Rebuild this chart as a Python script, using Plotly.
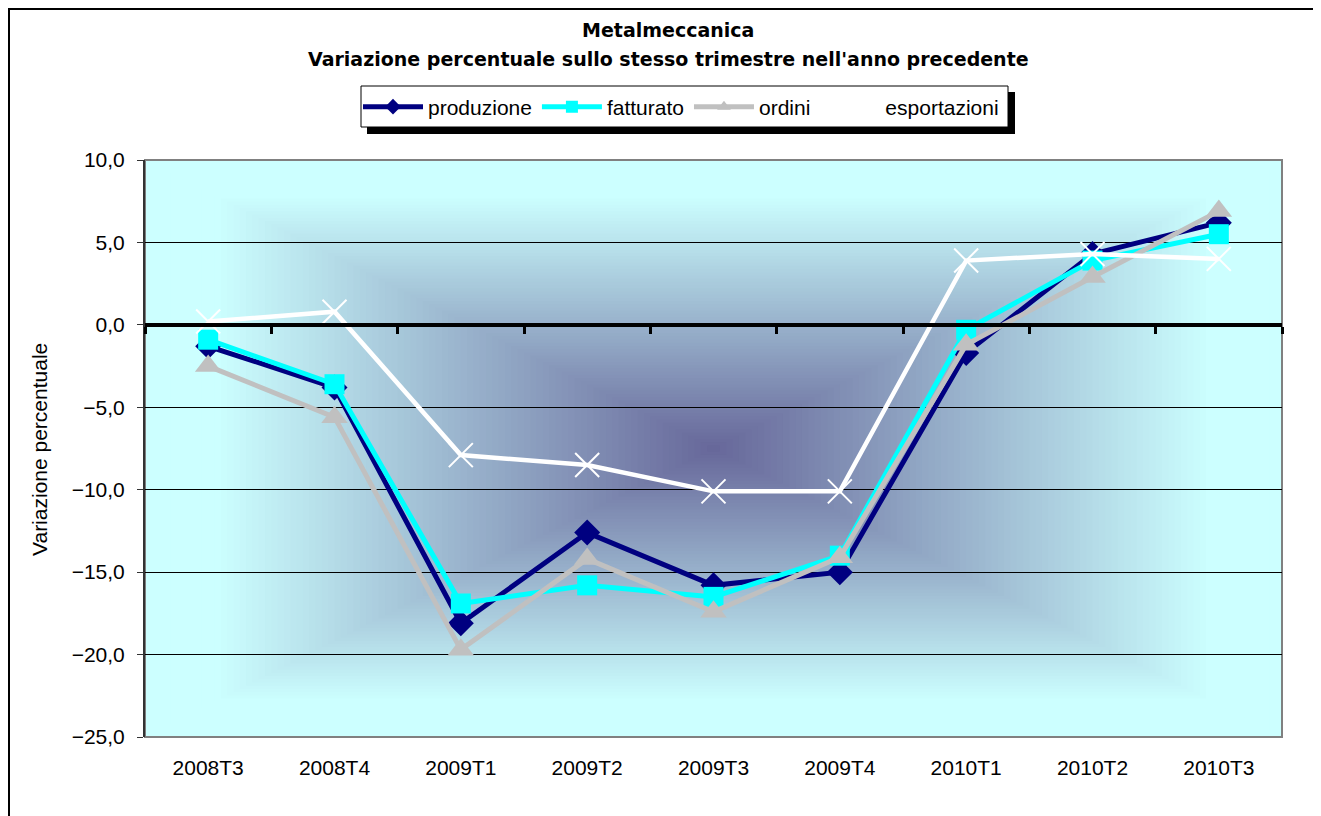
import plotly.graph_objects as go

categories = ["2008T3", "2008T4", "2009T1", "2009T2", "2009T3", "2009T4", "2010T1", "2010T2", "2010T3"]
produzione = [-1.3, -3.8, -18.1, -12.6, -15.8, -15.0, -1.7, 4.3, 6.2]
fatturato = [-0.9, -3.6, -16.9, -15.8, -16.5, -14.0, -0.3, 3.9, 5.5]
ordini = [-2.5, -5.6, -19.7, -14.2, -17.4, -14.1, -1.2, 2.9, 6.9]
esportazioni = [0.2, 0.8, -7.9, -8.5, -10.1, -10.1, 3.9, 4.3, 4.0]

Y_MIN, Y_MAX, Y_STEP = -25, 10, 5
title_lines = ["Metalmeccanica", "Variazione percentuale sullo stesso trimestre nell'anno precedente"]
y_title = "Variazione percentuale"

# the page has an 8px body margin: figure origin sits at screen (8, 8)
OFF = 8
W, H = 1321 - OFF, 816 - OFF
L, R, T, B = 145 - OFF, 1282 - OFF, 160 - OFF, 737 - OFF
FONT = "Liberation Sans, Arial, sans-serif"
TITLE_FONT = "DejaVu Sans, Liberation Sans, Arial, sans-serif"


def px(x):  # screen x -> paper
    return (x - OFF - L) / (R - L)


def py(y):  # screen y -> paper
    return (B - (y - OFF)) / (B - T)


fig = go.Figure()

series = [
    ("produzione", produzione, "#000080", "diamond", 20, 5),
    ("fatturato", fatturato, "#00FFFF", "square", 20, 5),
    ("ordini", ordini, "#C0C0C0", "triangle-up", 23, 5),
]
for name, vals, col, sym, size, lw in series:
    fig.add_trace(go.Scatter(
        x=categories, y=vals, name=name, mode="lines+markers",
        line=dict(color=col, width=lw),
        marker=dict(symbol=sym, size=size, color=col),
    ))
fig.add_trace(go.Scatter(
    x=categories, y=esportazioni, name="esportazioni", mode="lines+markers",
    line=dict(color="#FFFFFF", width=4.5),
    marker=dict(symbol="x-thin", size=24, color="#FFFFFF", line=dict(color="#FFFFFF", width=2)),
))
# helper trace for the zero axis with boundary ticks
fig.add_trace(go.Scatter(x=categories, y=[None] * len(categories), xaxis="x2",
                         showlegend=False, hoverinfo="skip", mode="lines"))

shapes = []
# rectangular "from center" gradient
dark = (102, 102, 153)
light = (204, 255, 255)
N = 90
for k in range(N):
    t = 1 - k / N
    f = min(1.0, t / 0.88)
    c = tuple(round(dark[i] + (light[i] - dark[i]) * f) for i in range(3))
    shapes.append(dict(type="rect", xref="x domain", yref="y domain",
                       x0=0.5 - t / 2, x1=0.5 + t / 2, y0=0.5 - t / 2, y1=0.5 + t / 2,
                       fillcolor="rgb(%d,%d,%d)" % c, line=dict(width=0), layer="below"))
# plot border (gray)
shapes.append(dict(type="rect", xref="x domain", yref="y domain", x0=0, x1=1, y0=0, y1=1,
                   line=dict(color="#808080", width=2), layer="below"))
# chart outer border
shapes.append(dict(type="rect", xref="paper", yref="paper",
                   x0=px(9), x1=px(1400), y0=py(900), y1=py(9),
                   line=dict(color="#000000", width=2), fillcolor="rgba(0,0,0,0)", layer="above"))
# legend shadow and box
shapes.append(dict(type="rect", xref="paper", yref="paper",
                   x0=px(367), x1=px(1015), y0=py(134), y1=py(92),
                   fillcolor="#000000", line=dict(width=0), layer="above"))
shapes.append(dict(type="rect", xref="paper", yref="paper",
                   x0=px(361), x1=px(1008), y0=py(127), y1=py(86),
                   fillcolor="#FFFFFF", line=dict(color="#000000", width=1), layer="above"))

zero_pos = (0 - Y_MIN) / (Y_MAX - Y_MIN)

fig.update_layout(
    width=W, height=H,
    margin=dict(l=L, r=W - R, t=T, b=H - B, pad=0),
    paper_bgcolor="white", plot_bgcolor="rgba(0,0,0,0)",
    separators=",.",
    font=dict(family=FONT, size=20, color="black"),
    shapes=shapes,
    showlegend=True,
    legend=dict(orientation="h", x=px(358), xanchor="left", y=py(107), yanchor="middle",
                bgcolor="rgba(0,0,0,0)", borderwidth=0, itemsizing="constant",
                font=dict(family=FONT, size=21, color="black"),
                itemwidth=60, traceorder="normal"),
    xaxis=dict(type="category", categoryorder="array", categoryarray=categories,
               range=[-0.5, len(categories) - 0.5], showgrid=False, zeroline=False,
               showline=False, ticks="", ticklabelstandoff=16,
               tickfont=dict(family=FONT, size=21, color="black")),
    xaxis2=dict(type="category", categoryorder="array", categoryarray=categories,
                overlaying="x", anchor="free", position=zero_pos, side="bottom",
                range=[-0.5, len(categories) - 0.5], showgrid=False, zeroline=False,
                showline=True, linecolor="black", linewidth=4,
                ticks="outside", tickson="boundaries", ticklen=7, tickwidth=3, tickcolor="black",
                showticklabels=False),
    yaxis=dict(range=[Y_MIN, Y_MAX], dtick=Y_STEP, tick0=0, tickformat=".1f",
               showgrid=True, gridcolor="black", gridwidth=1, zeroline=False,
               showline=True, linecolor="#333333", linewidth=2,
               ticks="outside", ticklen=6, tickcolor="#333333", tickwidth=1,
               ticklabelstandoff=8,
               tickfont=dict(family=FONT, size=21, color="black")),
    annotations=[
        dict(text="<b>" + title_lines[0] + "</b>", xref="paper", yref="paper",
             x=px(668), y=py(30), xanchor="center", yanchor="middle", showarrow=False,
             font=dict(family=TITLE_FONT, size=19, color="black")),
        dict(text="<b>" + title_lines[1] + "</b>", xref="paper", yref="paper",
             x=px(668), y=py(59), xanchor="center", yanchor="middle", showarrow=False,
             font=dict(family=TITLE_FONT, size=19, color="black")),
        dict(text=y_title, xref="paper", yref="paper", textangle=-90,
             x=px(39), y=py(450), xanchor="center", yanchor="middle", showarrow=False,
             font=dict(family=FONT, size=21, color="black")),
    ],
)

fig.write_html("out.html")
